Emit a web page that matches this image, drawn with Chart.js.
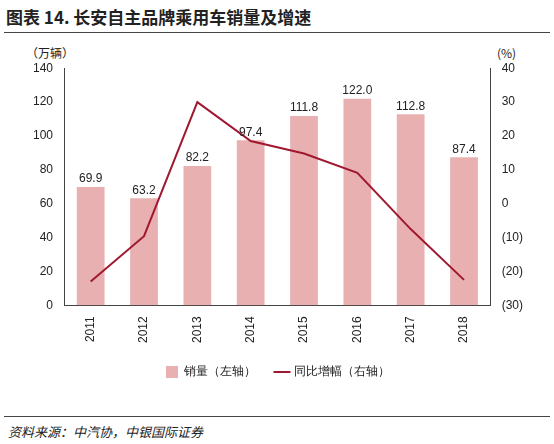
<!DOCTYPE html>
<html><head><meta charset="utf-8">
<script src="https://cdn.jsdelivr.net/npm/chart.js@4"></script>
<style>
body{margin:0;width:554px;height:444px;background:#fff;font-family:"Noto Sans CJK SC","Noto Sans",sans-serif;position:relative;overflow:hidden}
#title{position:absolute;left:6px;top:4px;font-size:17px;font-weight:bold;color:#222}
#tline{position:absolute;left:4px;top:32px;width:546px;border-top:1px solid #444}
#src{position:absolute;left:8px;top:422px;font-size:13px;font-style:italic;color:#222}
#sline{position:absolute;left:4px;top:416px;width:546px;border-top:1px solid #444}
.unit{position:absolute;top:44px;font-size:12px;color:#222}
#wrap{position:absolute;left:0;top:58px;width:554px;height:330px}
</style></head><body>
<div id="title">图表 14. 长安自主品牌乘用车销量及增速</div>
<div id="tline"></div>
<div class="unit" style="left:26px">（万辆）</div>
<div class="unit" style="left:497px">(%)</div>
<div id="wrap"><canvas id="c"></canvas></div>
<div id="sline"></div>
<div id="src">资料来源：中汽协，中银国际证券</div>
<script>
const years = ['2011','2012','2013','2014','2015','2016','2017','2018'];
const sales = [69.9, 63.2, 82.2, 97.4, 111.8, 122.0, 112.8, 87.4];
const growth = [-23.0, -9.6, 30.0, 18.5, 14.8, 9.1, -7.5, -22.5];

const barLabels = {
  id: 'barLabels',
  afterDatasetsDraw(chart) {
    const ctx = chart.ctx;
    const meta = chart.getDatasetMeta(0);
    ctx.save();
    ctx.font = '12px "Liberation Sans", Arial';
    ctx.fillStyle = '#222';
    ctx.textAlign = 'center';
    ctx.textBaseline = 'bottom';
    meta.data.forEach((b, i) => ctx.fillText(sales[i].toFixed(1), b.x, b.y - 2));
    ctx.restore();
  }
};

new Chart(document.getElementById('c'), {
  data: {
    labels: years,
    datasets: [
      { type: 'bar', label: '销量（左轴）', data: sales, backgroundColor: '#E8B0B0',
        yAxisID: 'y', categoryPercentage: 0.8, barPercentage: 0.65, pointStyle: 'rect', order: 2 },
      { type: 'line', label: '同比增幅（右轴）', data: growth, borderColor: '#A01830',
        borderWidth: 2, pointRadius: 0, yAxisID: 'y1', pointStyle: 'line', tension: 0, order: 1 }
    ]
  },
  options: {
    responsive: true, maintainAspectRatio: false, animation: false,
    layout: { padding: { left: 30, right: 28, top: 4 } },
    plugins: {
      legend: { position: 'bottom', labels: { usePointStyle: true, boxWidth: 40, padding: 20,
        color: '#222', font: { size: 12 }, sort: (a, b) => a.datasetIndex - b.datasetIndex } },
      tooltip: { enabled: false }
    },
    scales: {
      x: { grid: { display: false }, border: { color: '#444' },
        ticks: { maxRotation: 90, minRotation: 90, color: '#222', font: { size: 12, family: 'Liberation Sans' } } },
      y: { min: 0, max: 140, position: 'left', grid: { display: false }, border: { color: '#444' },
        ticks: { stepSize: 20, color: '#222', font: { size: 12, family: 'Liberation Sans' } } },
      y1: { min: -30, max: 40, position: 'right', grid: { display: false }, border: { color: '#444' },
        ticks: { stepSize: 10, color: '#222', font: { size: 12, family: 'Liberation Sans' },
          callback: v => v < 0 ? '(' + (-v) + ')' : v } }
    }
  },
  plugins: [barLabels]
});
</script>
</body></html>
